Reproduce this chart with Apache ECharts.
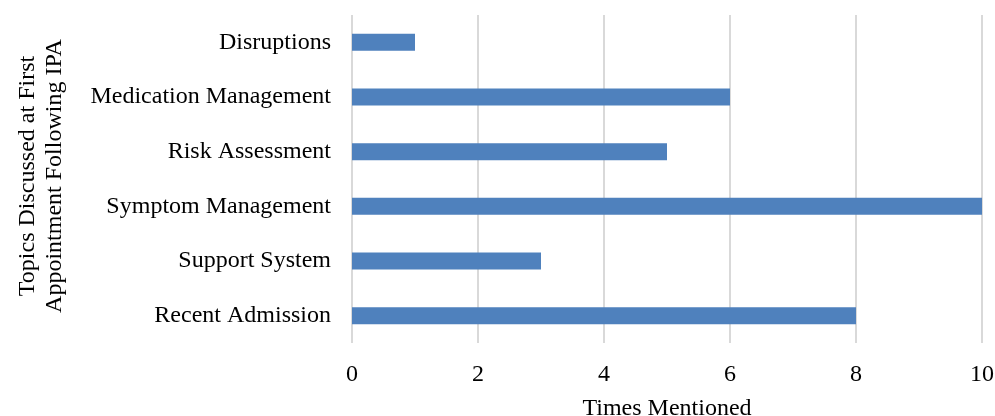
<!DOCTYPE html>
<html>
<head>
<meta charset="utf-8">
<script src="https://cdn.jsdelivr.net/npm/echarts@6/dist/echarts.min.js"></script>
<style>
  html, body { margin: 0; padding: 0; background: #fff; }
  #chart { width: 995px; height: 416px; }
</style>
</head>
<body>
<div id="chart"></div>
<script>
// Topics, listed bottom to top as the category axis draws them
const topics = ['Recent Admission', 'Support System', 'Symptom Management', 'Risk Assessment', 'Medication Management', 'Disruptions'];
const timesMentioned = [8, 3, 10, 5, 6, 1];
const xTicks = { min: 0, max: 10, interval: 2 };

const font = '"Liberation Serif", "Times New Roman", serif';
const chart = echarts.init(document.getElementById('chart'));

chart.setOption({
  animation: false,
  grid: { left: 352, right: 13, top: 15, bottom: 73, containLabel: false, outerBoundsMode: 'none' },
  xAxis: {
    type: 'value',
    min: xTicks.min,
    max: xTicks.max,
    interval: xTicks.interval,
    axisLine: { show: false },
    axisTick: { show: false },
    splitLine: { show: true, lineStyle: { color: '#d9d9d9', width: 2 } },
    axisLabel: { color: '#000', fontFamily: font, fontSize: 24, margin: 20 },
    name: 'Times Mentioned',
    nameLocation: 'middle',
    nameGap: 54,
    nameTextStyle: { color: '#000', fontFamily: font, fontSize: 24 }
  },
  yAxis: {
    type: 'category',
    data: topics,
    axisLine: { show: false },
    axisTick: { show: false },
    axisLabel: { color: '#000', fontFamily: font, fontSize: 24, margin: 21 }
  },
  graphic: [{
    type: 'text',
    x: 41,
    y: 176,
    rotation: Math.PI / 2,
    style: {
      text: 'Topics Discussed at First\nAppointment Following IPA',
      fill: '#000',
      font: '24px ' + font,
      lineHeight: 27,
      align: 'center',
      verticalAlign: 'middle'
    }
  }],
  series: [{
    type: 'bar',
    data: timesMentioned,
    barWidth: 17,
    itemStyle: { color: '#4f81bd' }
  }]
});
</script>
</body>
</html>
